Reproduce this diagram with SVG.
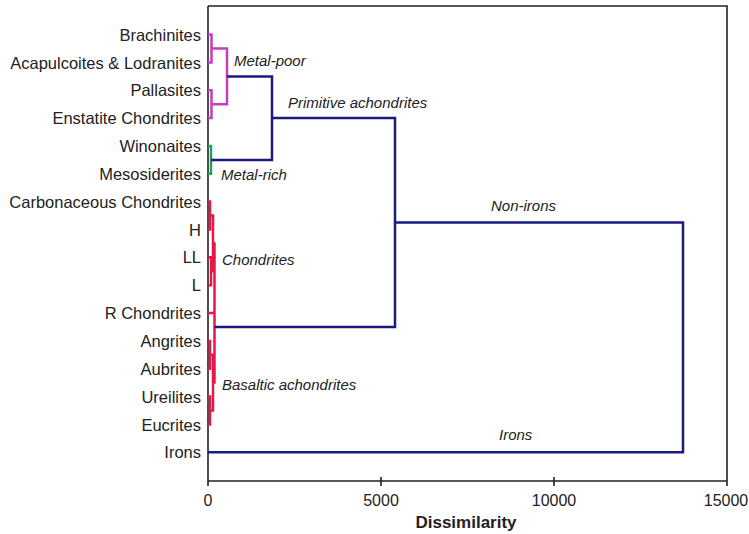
<svg xmlns="http://www.w3.org/2000/svg" width="749" height="534" viewBox="0 0 749 534">
<style>
.lbl{font-family:"Liberation Sans",Arial,sans-serif;font-size:16.5px;fill:#222;text-anchor:end}
.it{font-family:"Liberation Sans",Arial,sans-serif;font-size:15px;fill:#222;font-style:italic}
.tick{font-family:"Liberation Sans",Arial,sans-serif;font-size:16px;fill:#222;text-anchor:middle}
.ttl{font-family:"Liberation Sans",Arial,sans-serif;font-size:17px;font-weight:bold;fill:#222;text-anchor:middle}
.nv{fill:none;stroke:#1a1a80;stroke-width:2.5}
.mg{fill:none;stroke:#c23ec2;stroke-width:2.5}
.gr{fill:none;stroke:#22a060;stroke-width:2.5}
.rd{fill:none;stroke:#e8174a;stroke-width:2.5}
.ax{fill:none;stroke:#222;stroke-width:1.6}
</style>
<rect width="749" height="534" fill="#fff"/>
<g id="axes">
<path class="ax" d="M208,6 H727 V486 M208,6 V486 M208,481 H727 M381,477 V486 M554,477 V486"/>
<text class="tick" x="208" y="506">0</text>
<text class="tick" x="381" y="506">5000</text>
<text class="tick" x="554" y="506">10000</text>
<text class="tick" x="726" y="506">15000</text>
<text class="ttl" x="466" y="528">Dissimilarity</text>
</g>
<g id="leaves">
<text class="lbl" x="201" y="41">Brachinites</text>
<text class="lbl" x="201" y="69">Acapulcoites &amp; Lodranites</text>
<text class="lbl" x="201" y="96">Pallasites</text>
<text class="lbl" x="201" y="124">Enstatite Chondrites</text>
<text class="lbl" x="201" y="152">Winonaites</text>
<text class="lbl" x="201" y="180">Mesosiderites</text>
<text class="lbl" x="201" y="208">Carbonaceous Chondrites</text>
<text class="lbl" x="201" y="236">H</text>
<text class="lbl" x="201" y="263">LL</text>
<text class="lbl" x="201" y="291">L</text>
<text class="lbl" x="201" y="319">R Chondrites</text>
<text class="lbl" x="201" y="347">Angrites</text>
<text class="lbl" x="201" y="375">Aubrites</text>
<text class="lbl" x="201" y="403">Ureilites</text>
<text class="lbl" x="201" y="431">Eucrites</text>
<text class="lbl" x="201" y="458">Irons</text>
</g>
<g id="connectors">
<path class="mg" d="M208,34.5 H211.5 V62.4 H208 M208,90.2 H211.5 V118.1 H208 M211.5,48.5 H227 V104.2 H211.5"/>
<path class="gr" d="M208,145.9 H211 V173.8 H208"/>
<path class="rd" d="M208,201.6 H210 V229.5 H208 M208,257.3 H211 V285.2 H208 M210,215.5 H213 V271.3 H211 M213,243.4 H214.5 V313 H208 M208,340.9 H210 V368.7 H208 M208,396.6 H210 V424.4 H208 M210,354.8 H213 V410.5 H210 M214.5,278.2 V382.6 H213"/>
<path class="nv" d="M227,76.5 H272 V160 H211 M272,118 H395 V327 H214.5 M395,222.5 H683 V452.3 H208"/>
</g>
<g id="cluster-labels">
<text class="it" x="234" y="66">Metal-poor</text>
<text class="it" x="288" y="108">Primitive achondrites</text>
<text class="it" x="221" y="180">Metal-rich</text>
<text class="it" x="491" y="211">Non-irons</text>
<text class="it" x="222" y="265">Chondrites</text>
<text class="it" x="222" y="390">Basaltic achondrites</text>
<text class="it" x="499" y="440">Irons</text>
</g>
</svg>
